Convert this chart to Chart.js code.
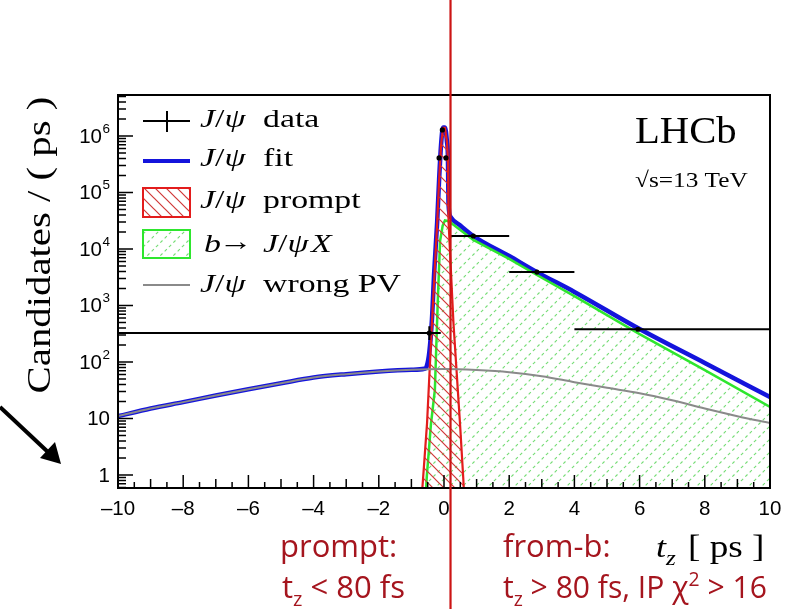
<!DOCTYPE html>
<html>
<head>
<meta charset="utf-8">
<script src="https://cdn.jsdelivr.net/npm/chart.js@4.4.0/dist/chart.umd.min.js"></script>
<style>
  html, body { margin: 0; padding: 0; background: #fff; }
  canvas { display: block; }
</style>
</head>
<body>
<canvas id="tzChart" width="800" height="609"></canvas>
<script>
// x axis ticks and y axis decade labels
const xTickValues = [-10, -8, -6, -4, -2, 0, 2, 4, 6, 8, 10];
const yTickValues = [1, 10, 100, 1e3, 1e4, 1e5, 1e6];
const yTickBase = ["1", "10", "10", "10", "10", "10", "10"];
const yTickExp = ["", "", "2", "3", "4", "5", "6"];

// J/psi data (bin centre, content, bin edges, errors)
const dataT = [-0.45, -0.15, -0.05, 0.06, 0.9, 2.85, 5.95];
const dataVal = [325, 4.1e5, 1.28e6, 4.1e5, 1.7e4, 3900, 380];
const binLow = [-10, -0.2, -0.1, 0, 0.2, 2, 4];
const binHigh = [-0.1, -0.1, 0, 0.12, 2, 4, 10];
const errLow = [245, 3.9e5, 1.25e6, 3.9e5, 1.65e4, 3750, 365];
const errHigh = [430, 4.3e5, 1.31e6, 4.3e5, 1.75e4, 4050, 395];

// total fit
const fitT = [-10, -9, -8, -7, -6, -5, -4, -3, -2, -1, -0.6, -0.53, -0.45, -0.37, -0.3, -0.21, -0.15, -0.09, -0.03, 0.03, 0.09, 0.12, 0.14, 0.2, 0.5, 0.9, 2, 2.85, 4, 6, 8, 10];
const fitVal = [11, 15, 19.5, 25.5, 33, 42, 53, 61, 68, 73, 76, 84, 150, 570, 4000, 3e4, 1.7e5, 7e5, 1.42e6, 1.42e6, 8e5, 4.3e5, 6.1e4, 3.7e4, 2.6e4, 1.7e4, 7500, 3900, 1740, 383, 96, 24];

// prompt component
const promptT = [-0.8, -0.64, -0.52, -0.37, -0.21, -0.15, -0.09, -0.03, 0.03, 0.09, 0.12, 0.14, 0.29, 0.49, 0.59, 0.7];
const promptVal = [0.05, 0.9, 8.3, 490, 2.8e4, 1.66e5, 6.9e5, 1.4e6, 1.4e6, 8e5, 4e5, 3e4, 490, 8.3, 0.9, 0.05];

// b -> J/psi X component
const fromBT = [-0.62, -0.53, -0.4, -0.28, -0.19, -0.12, -0.04, 0.03, 0.15, 0.9, 2, 2.85, 4, 6, 8, 10];
const fromBVal = [0.1, 0.9, 8, 32, 1250, 1.4e4, 2.6e4, 3.2e4, 3.1e4, 1.45e4, 6700, 3470, 1470, 312, 72, 16];

// wrong PV component
const wrongPvT = [-10, -9, -8, -7, -6, -5, -4, -3, -2, -1, 0, 1, 2, 3, 4, 5, 6, 7, 8, 9, 10];
const wrongPvVal = [11, 15, 19.5, 25.5, 33, 42, 53, 61, 68, 73, 75, 72, 66, 56, 44, 35, 28, 21, 15, 11, 8.3];

const cutT = 0.2;

const BLUE = "#1414dc";
const RED = "#e31c1c";
const GREEN = "#2ee62e";
const GREY = "#8a8a8a";
const DARKRED = "#a5151e";

function pts(xs, ys) {
    return xs.map((x, i) => ({ x: x, y: ys[i] }));
}

function hatch(color, slash, dashed, s, w) {
    const c = document.createElement("canvas");
    c.width = s;
    c.height = s;
    const g = c.getContext("2d");
    g.strokeStyle = color;
    g.lineWidth = w;
    if (dashed) g.setLineDash([s * Math.SQRT2 / 6, s * Math.SQRT2 / 6]);
    g.beginPath();
    if (slash) {
        g.moveTo(0, s); g.lineTo(s, 0);
        g.moveTo(-s / 2, s / 2); g.lineTo(s / 2, -s / 2);
        g.moveTo(s / 2, s + s / 2); g.lineTo(s + s / 2, s / 2);
    } else {
        g.moveTo(0, 0); g.lineTo(s, s);
        g.moveTo(-s / 2, s / 2); g.lineTo(s / 2, s + s / 2);
        g.moveTo(s / 2, -s / 2); g.lineTo(s + s / 2, s / 2);
    }
    g.stroke();
    return document.createElement("canvas").getContext("2d").createPattern(c, "repeat");
}

const redHatch = hatch("#d03838", false, false, 11, 1.2);
const greenHatch = hatch("#74dc74", true, true, 13, 1.1);

// draw pieces of text one after the other, with a horizontal stretch
function rich(ctx, parts, x, y, color, sx) {
    ctx.save();
    ctx.translate(x, y);
    ctx.scale(sx || 1, 1);
    ctx.fillStyle = color;
    ctx.textBaseline = "alphabetic";
    ctx.textAlign = "left";
    let cx = 0;
    parts.forEach(p => {
        ctx.font = p[1];
        ctx.fillText(p[0], cx, p[2] || 0);
        cx += ctx.measureText(p[0]).width;
    });
    ctx.restore();
}

const SERIF = '"Liberation Serif", "Times New Roman", serif';
const SANS = '"Liberation Sans", Arial, sans-serif';
const GOTHIC = '"Open Sans", "DejaVu Sans", sans-serif';

const decor = {
    id: "decor",
    afterDatasetsDraw(chart) {
        const { ctx, chartArea: a, scales: { x, y } } = chart;
        ctx.save();

        // data points with error bars
        ctx.strokeStyle = "#000";
        ctx.fillStyle = "#000";
        ctx.lineWidth = 2;
        dataT.forEach((t, i) => {
            const px = x.getPixelForValue(t);
            const py = y.getPixelForValue(dataVal[i]);
            ctx.beginPath();
            ctx.moveTo(x.getPixelForValue(binLow[i]), py);
            ctx.lineTo(x.getPixelForValue(binHigh[i]), py);
            ctx.moveTo(px, y.getPixelForValue(errLow[i]));
            ctx.lineTo(px, y.getPixelForValue(errHigh[i]));
            ctx.stroke();
            ctx.beginPath();
            ctx.arc(px, py, 2.6, 0, Math.PI * 2);
            ctx.fill();
        });

        // frame
        ctx.lineWidth = 2;
        ctx.strokeRect(a.left, a.top, a.right - a.left, a.bottom - a.top);

        // y ticks inside the frame
        ctx.lineWidth = 1.5;
        ctx.beginPath();
        for (let k = -1; k <= 6; k++) {
            for (let m = 1; m <= 9; m++) {
                const py = y.getPixelForValue(m * Math.pow(10, k));
                if (py < a.top || py > a.bottom) continue;
                const len = m === 1 ? 15 : 8;
                ctx.moveTo(a.left, py);
                ctx.lineTo(a.left + len, py);
            }
        }
        // x ticks inside the frame
        for (let i = 0; i <= 40; i++) {
            const px = x.getPixelForValue(-10 + i * 0.5);
            const len = i % 4 === 0 ? 13 : (i % 2 === 0 ? 9 : 6);
            ctx.moveTo(px, a.bottom);
            ctx.lineTo(px, a.bottom - len);
        }
        ctx.stroke();

        // y tick labels
        ctx.fillStyle = "#000";
        ctx.textBaseline = "middle";
        ctx.textAlign = "right";
        yTickValues.forEach((v, i) => {
            const py = y.getPixelForValue(v);
            let right = 110;
            if (yTickExp[i]) {
                ctx.font = "13.5px " + SANS;
                ctx.fillText(yTickExp[i], right, py - 7);
                right -= ctx.measureText(yTickExp[i]).width + 0.5;
            }
            ctx.font = "20.5px " + SANS;
            ctx.fillText(yTickBase[i], right, py + 1);
        });

        // y title
        ctx.save();
        ctx.translate(50, 245);
        ctx.rotate(-Math.PI / 2);
        ctx.scale(1.2, 1);
        ctx.font = "34px " + SERIF;
        ctx.textAlign = "center";
        ctx.textBaseline = "alphabetic";
        ctx.fillText("Candidates / ( ps )", 0, 0);
        ctx.restore();

        // legend
        ctx.strokeStyle = "#000";
        ctx.lineWidth = 2;
        ctx.beginPath();
        ctx.moveTo(143, 121); ctx.lineTo(190, 121);
        ctx.moveTo(167, 111); ctx.lineTo(167, 132);
        ctx.stroke();
        ctx.strokeStyle = BLUE;
        ctx.lineWidth = 4;
        ctx.beginPath();
        ctx.moveTo(143, 161); ctx.lineTo(190, 161);
        ctx.stroke();
        ctx.fillStyle = redHatch;
        ctx.fillRect(143, 188, 47, 29);
        ctx.strokeStyle = RED;
        ctx.lineWidth = 2;
        ctx.strokeRect(143, 188, 47, 29);
        ctx.fillStyle = greenHatch;
        ctx.fillRect(143, 230, 47, 28);
        ctx.strokeStyle = GREEN;
        ctx.strokeRect(143, 230, 47, 28);
        ctx.strokeStyle = GREY;
        ctx.lineWidth = 2;
        ctx.beginPath();
        ctx.moveTo(143, 285); ctx.lineTo(190, 285);
        ctx.stroke();

        const it = "italic 26px " + SERIF;
        const up = "26px " + SERIF;
        const jpsi = [["J", it], ["/", up], ["\u03c8", it]];
        const sx = 1.3;
        [127, 166, 208, 292].forEach(b => rich(ctx, jpsi, 200, b, "#000", sx));
        rich(ctx, [["data", up]], 263, 127, "#000", sx);
        rich(ctx, [["fit", up]], 263, 166, "#000", sx);
        rich(ctx, [["prompt", up]], 263, 208, "#000", sx);
        rich(ctx, [["b", it]], 204, 252, "#000", sx);
        rich(ctx, [["\u2192", up]], 219, 250, "#000", sx);
        rich(ctx, jpsi, 263, 252, "#000", sx);
        rich(ctx, [["X", it]], 311, 252, "#000", sx);
        rich(ctx, [["wrong PV", up]], 263, 292, "#000", sx);

        // LHCb label
        rich(ctx, [["LHCb", "38px " + SERIF]], 635, 143, "#000", 1.07);
        rich(ctx, [["\u221as=13 TeV", "22px " + SERIF]], 635, 187, "#000", 1.15);

        // x title
        rich(ctx, [["t", "italic 30px " + SERIF], ["z", "italic 21px " + SERIF, 8]], 656, 557, "#000", 1.2);
        rich(ctx, [["[ ps ]", "31px " + SERIF]], 688, 557, "#000", 1.2);

        // selection annotations
        const g = "31px " + GOTHIC;
        const gs = "20px " + GOTHIC;
        rich(ctx, [["prompt:", g]], 280, 557, DARKRED, 1);
        rich(ctx, [["t", g], ["z", gs, 8], [" < 80 fs", g]], 282, 598, DARKRED, 1);
        rich(ctx, [["from-b:", g]], 503, 557, DARKRED, 1);
        rich(ctx, [["t", g], ["z", gs, 8], [" > 80 fs, IP \u03c7", g], ["2", gs, -12], [" > 16", g]], 503, 598, DARKRED, 0.97);

        // cut line
        const cx = x.getPixelForValue(cutT);
        ctx.strokeStyle = "#cc1414";
        ctx.lineWidth = 2.2;
        ctx.beginPath();
        ctx.moveTo(cx, 0);
        ctx.lineTo(cx, chart.height);
        ctx.stroke();

        // arrow pointing at the axis
        ctx.strokeStyle = "#000";
        ctx.fillStyle = "#000";
        ctx.lineWidth = 4;
        ctx.beginPath();
        ctx.moveTo(0, 407);
        ctx.lineTo(49, 453);
        ctx.stroke();
        ctx.beginPath();
        ctx.moveTo(61, 464);
        ctx.lineTo(40, 458);
        ctx.lineTo(55, 442);
        ctx.closePath();
        ctx.fill();

        ctx.restore();
    },
};

const ctx = document.getElementById("tzChart").getContext("2d");
const tzChart = new Chart(ctx, {
    type: "scatter",
    data: {
        datasets: [
            {
                label: "J/psi wrong PV",
                data: pts(wrongPvT, wrongPvVal),
                showLine: true,
                cubicInterpolationMode: "monotone",
                borderColor: GREY,
                borderWidth: 2,
                pointRadius: 0,
                fill: false,
                clip: 0,
            },
            {
                label: "J/psi prompt",
                data: pts(promptT, promptVal),
                showLine: true,
                borderColor: RED,
                borderWidth: 2.2,
                backgroundColor: redHatch,
                pointRadius: 0,
                fill: "start",
                clip: 0,
            },
            {
                label: "b -> J/psi X",
                data: pts(fromBT, fromBVal),
                showLine: true,
                borderColor: GREEN,
                borderWidth: 2.5,
                backgroundColor: greenHatch,
                pointRadius: 0,
                fill: "start",
                clip: 0,
            },
            {
                label: "J/psi fit",
                data: pts(fitT, fitVal),
                showLine: true,
                cubicInterpolationMode: "monotone",
                borderColor: BLUE,
                borderWidth: 4.5,
                pointRadius: 0,
                fill: false,
                clip: 0,
            },
        ],
    },
    options: {
        responsive: false,
        animation: false,
        devicePixelRatio: 1,
        layout: { padding: { top: 95, right: 30, left: 0, bottom: 0 } },
        plugins: {
            legend: { display: false },
            tooltip: { enabled: false },
        },
        scales: {
            x: {
                type: "linear",
                min: -10,
                max: 10,
                afterFit: (s) => { s.height = 121; },
                grid: { display: false },
                border: { display: false },
                afterBuildTicks: (s) => { s.ticks = xTickValues.map(v => ({ value: v })); },
                ticks: {
                    autoSkip: false,
                    maxRotation: 0,
                    padding: 1,
                    color: "#000",
                    font: { family: "Liberation Sans", size: 20.5 },
                    callback: (v) => (v < 0 ? "\u2013" + Math.abs(v) : String(v)),
                },
            },
            y: {
                type: "logarithmic",
                min: 0.589,
                max: 5.32e6,
                afterFit: (s) => { s.width = 118; },
                grid: { display: false },
                border: { display: false },
                ticks: { display: false },
            },
        },
    },
    plugins: [decor],
});
</script>
</body>
</html>
